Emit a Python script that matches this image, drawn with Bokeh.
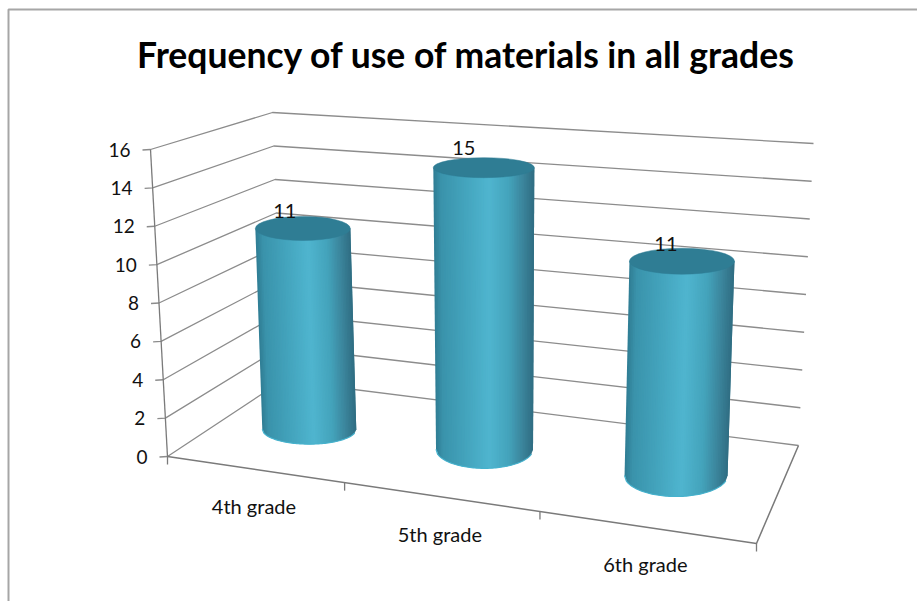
from bokeh.plotting import figure
from bokeh.models import Range1d
from bokeh.core.properties import value
from bokeh.embed import file_html
from bokeh.resources import INLINE

# Chart content
title_text = "Frequency of use of materials in all grades"
grades = ["4th grade", "5th grade", "6th grade"]
counts = [11, 15, 11]
value_ticks = [0, 2, 4, 6, 8, 10, 12, 14, 16]

# Box of the 3-D scene on the page: (depth, across) -> screen corner
FLOOR = {"FL": (167, 456), "FR": (756, 543), "BL": (282, 380), "BR": (798, 445)}
CEIL = {"FL": (150, 149), "FR": (768, 206), "BL": (272, 112), "BR": (813, 143)}
VMAX = value_ticks[-1]
WARP = 0.86      # foreshortening along the category axis

# Where each cylinder stands in the scene, and its outline in pixels
LATERAL = [0.013, 0.0, 0.0]
DEPTH = [0.51, 0.55, 0.55]
HW_TOP = [47.5, 50.5, 52.5]
HW_BOT = [47.0, 48.5, 51.5]
HH_TOP = [12, 10, 13]
HH_BOT = [15, 19, 21]
LABEL_SHIFT = [(-18, -17), (-20, -20), (-16, -17)]

INK = "#111111"
FONT = value("Lato")
GRID = "#8c8c8c"
AXIS = "#7a7a7a"

SHADE = [(-1.0, "#2f7c93"), (-0.85, "#3a93ab"), (-0.4, "#43a3bc"),
         (0.1, "#4fb5cf"), (0.5, "#44a3bb"), (0.8, "#3a8299"), (1.0, "#2f6d82")]
TOP_FILL = "#2f7d94"
RIM = "#46b2cd"


def warp(t):
    return WARP * t / (1 + (WARP - 1) * t)


def project(u, v, h):
    """u: category position 0..n, v: depth 0..1, h: value on the vertical scale."""
    t = warp(u / len(grades))
    f = h / VMAX
    pts = []
    for box in (FLOOR, CEIL):
        fx = box["FL"][0] + (box["FR"][0] - box["FL"][0]) * t
        fy = box["FL"][1] + (box["FR"][1] - box["FL"][1]) * t
        bx = box["BL"][0] + (box["BR"][0] - box["BL"][0]) * t
        by = box["BL"][1] + (box["BR"][1] - box["BL"][1]) * t
        pts.append((fx + (bx - fx) * v, fy + (by - fy) * v))
    return (pts[0][0] + (pts[1][0] - pts[0][0]) * f,
            pts[0][1] + (pts[1][1] - pts[0][1]) * f)


def shade(s):
    def rgb(c):
        return [int(c[i:i + 2], 16) for i in (1, 3, 5)]
    for (a, ca), (b, cb) in zip(SHADE, SHADE[1:]):
        if a <= s <= b:
            k = (s - a) / (b - a)
            mix = [round(x + (y - x) * k) for x, y in zip(rgb(ca), rgb(cb))]
            return "#%02x%02x%02x" % tuple(mix)
    return SHADE[-1][1]


p = figure(width=917, height=601, output_backend="svg", toolbar_location=None,
           x_range=Range1d(0, 917), y_range=Range1d(601, 0),
           x_axis_type=None, y_axis_type=None, min_border=0,
           outline_line_color=None, background_fill_color="white",
           border_fill_color="white")
p.grid.visible = False

# Outer frame, open towards the right and the bottom
p.line([8, 8, 917], [601, 9, 9], line_color="#a6a6a6", line_width=2)

# Walls: gridlines run along the left wall, then along the back wall
n = len(grades)
for tick in value_ticks:
    x0, y0 = project(0, 0, tick)
    x1, y1 = project(0, 1, tick)
    x2, y2 = project(n, 1, tick)
    p.line([x0 - 8, x0, x1, x2], [y0 + 0.5, y0, y1, y2], line_color=GRID, line_width=1.3)
    p.text([x0 - 20], [y0], text=[str(tick)], text_align="right", text_baseline="middle",
           text_font=FONT, text_font_size="19px", text_color=INK)

# Vertical axis and floor outline
xa, ya = project(0, 0, 0)
xb, yb = project(0, 0, VMAX)
p.line([xa, xb], [ya, yb], line_color=AXIS, line_width=1.3)
floor_edge = [project(0, 0, 0), project(n, 0, 0), project(n, 1, 0)]
p.line([q[0] for q in floor_edge], [q[1] for q in floor_edge], line_color=AXIS, line_width=1.5)
for u in range(n + 1):
    x, y = project(u, 0, 0)
    p.line([x, x], [y, y + 8], line_color=AXIS, line_width=1.3)

# Category labels below the front edge of the floor
for i, name in enumerate(grades):
    x, y = project(i + 0.5, 0, 0)
    p.text([x], [y + 37], text=[name], text_align="center", text_baseline="middle",
           text_font=FONT, text_font_size="20px", text_color=INK)

# Cylinders: overlapping vertical strips carry the shading, an ellipse caps each one
STRIPS = 60
for i, count in enumerate(counts):
    xb0, yb0 = project(i + 0.5 + LATERAL[i], DEPTH[i], 0)
    xt0, yt0 = project(i + 0.5 + LATERAL[i], DEPTH[i], count)
    xs, ys, cols = [], [], []
    rim_x, rim_y = [], []
    for k in range(STRIPS):
        s0 = -1 + 2 * k / STRIPS
        s1 = -1 + 2 * (k + 1) / STRIPS
        # each strip runs on under the next one so no seams show between them
        s2 = min(1.0, s1 + 2 / STRIPS)
        arc0 = HH_BOT[i] * (1 - s0 ** 2) ** 0.5
        arc2 = HH_BOT[i] * (1 - s2 ** 2) ** 0.5
        xs.append([xt0 + HW_TOP[i] * s0, xt0 + HW_TOP[i] * s2,
                   xb0 + HW_BOT[i] * s2, xb0 + HW_BOT[i] * s0])
        ys.append([yt0, yt0, yb0 + arc2, yb0 + arc0])
        cols.append(shade((s0 + s1) / 2))
        rim_x.append(xb0 + HW_BOT[i] * s0)
        rim_y.append(yb0 + arc0)
    p.patches(xs, ys, fill_color=cols, line_color=None)
    p.line(rim_x, rim_y, line_color=RIM, line_width=1.2)
    p.ellipse([xt0], [yt0], width=2 * HW_TOP[i], height=2 * HH_TOP[i],
              fill_color=TOP_FILL, line_color=TOP_FILL, line_width=0.5)
    p.text([xt0 + LABEL_SHIFT[i][0]], [yt0 + LABEL_SHIFT[i][1]], text=[str(count)],
           text_align="center", text_baseline="middle",
           text_font=FONT, text_font_size="20px", text_color=INK)

# Title
p.text([466], [54], text=[title_text], text_align="center", text_baseline="middle",
       text_font=FONT, text_font_style="bold", text_font_size="35.5px", text_color="#000000")

open("out.html", "w").write(file_html(p, INLINE))
